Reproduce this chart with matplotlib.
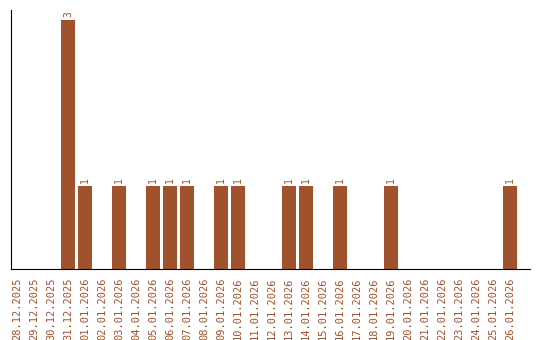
import matplotlib
matplotlib.use("Agg")
import matplotlib.pyplot as plt

dates = ["28.12.2025", "29.12.2025", "30.12.2025", "31.12.2025", "01.01.2026",
         "02.01.2026", "03.01.2026", "04.01.2026", "05.01.2026", "06.01.2026",
         "07.01.2026", "08.01.2026", "09.01.2026", "10.01.2026", "11.01.2026",
         "12.01.2026", "13.01.2026", "14.01.2026", "15.01.2026", "16.01.2026",
         "17.01.2026", "18.01.2026", "19.01.2026", "20.01.2026", "21.01.2026",
         "22.01.2026", "23.01.2026", "24.01.2026", "25.01.2026", "26.01.2026"]
counts = [0, 0, 0, 3, 1,
          0, 1, 0, 1, 1,
          1, 0, 1, 1, 0,
          0, 1, 1, 0, 1,
          0, 0, 1, 0, 0,
          0, 0, 0, 0, 1]

color = "#A0522D"
fig = plt.figure(figsize=(5.4, 3.4), dpi=100)
ax = fig.add_axes([11/540, 71/340, 519/540, 259/340])
x = list(range(len(dates)))
ax.bar(x, counts, width=0.82, color=color)
for xi, c in zip(x, counts):
    if c > 0:
        ax.text(xi, c + 0.03, str(c), rotation=90, ha="center", va="bottom",
                fontsize=7, color=color, family="DejaVu Sans Mono")
ax.set_xlim(-0.35, 30.18)
ax.set_ylim(0, 3.12)
ax.set_xticks(x)
ax.set_xticklabels(dates, rotation=90, fontsize=7.5, color=color, family="DejaVu Sans Mono")
ax.tick_params(axis="x", length=0, pad=6)
ax.set_yticks([])
ax.spines["top"].set_visible(False)
ax.spines["right"].set_visible(False)
fig.savefig("out.png", dpi=100)
